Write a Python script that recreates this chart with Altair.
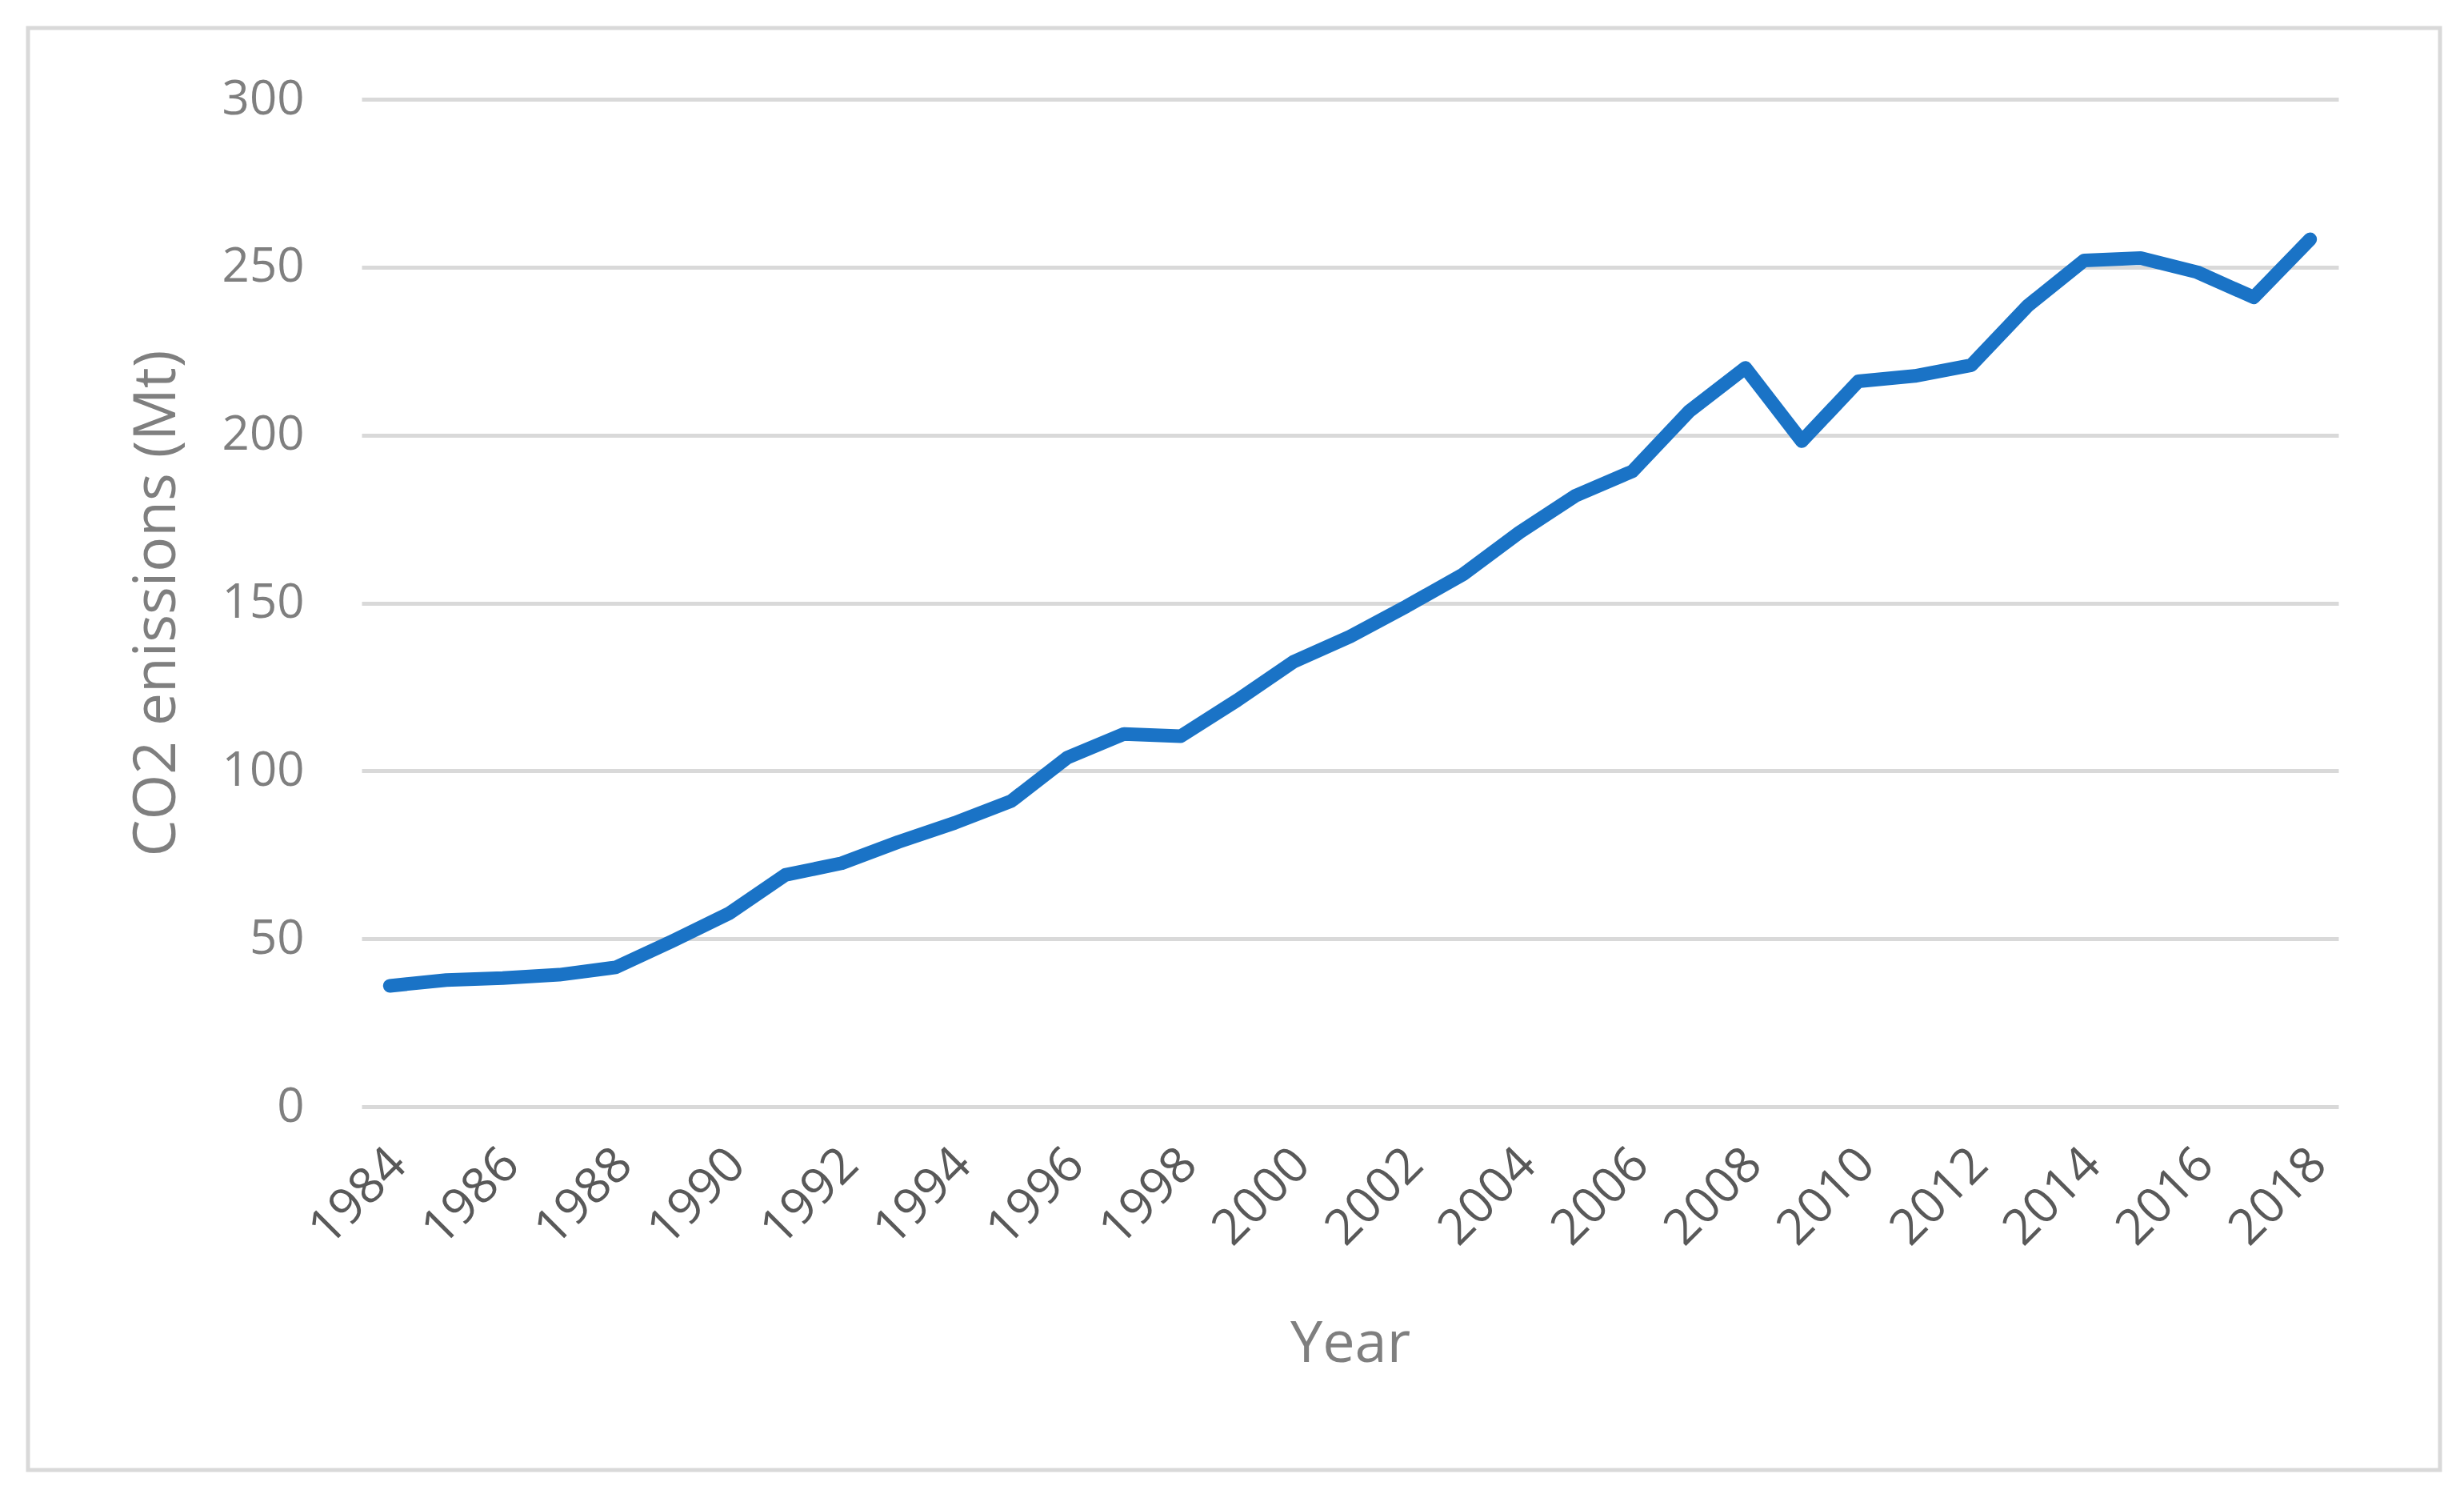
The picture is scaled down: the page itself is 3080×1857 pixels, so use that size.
import altair as alt
import pandas as pd

years = list(range(1984, 2019))
emissions = [36.0, 37.7, 38.3, 39.3, 41.5, 49.3, 57.5, 69.0, 72.5, 78.8,
             84.5, 91.0, 104.0, 111.0, 110.3, 121.0, 132.5, 140.0, 149.0, 158.5,
             171.0, 182.0, 189.2, 207.0, 220.0, 198.2, 216.0, 217.6, 220.8, 238.5,
             252.0, 252.7, 248.5, 241.0, 258.3]
x_ticks = list(range(1984, 2019, 2))
y_ticks = [0, 50, 100, 150, 200, 250, 300]

df = pd.DataFrame({"Year": years, "CO2": emissions})

W, H = 2471, 1259
FONT = "Open Sans"

line = alt.Chart(df).mark_line(
    color="#1a73c6", strokeWidth=17, strokeCap="round", strokeJoin="round"
).encode(
    x=alt.X("Year:Q",
            scale=alt.Scale(domain=[1983.5, 2018.5], nice=False, zero=False),
            axis=alt.Axis(values=x_ticks, format="d", title="Year",
                          grid=False, domain=False, ticks=False,
                          labelAngle=-45, labelAlign="right", labelBaseline="middle",
                          labelPadding=62, labelOffset=10, labelOverlap=False,
                          labelFont=FONT, labelFontSize=62, labelColor="#595959",
                          titleFont=FONT, titleFontSize=72, titleColor="#7f7f7f",
                          titleFontWeight="normal",
                          titleX=W / 2, titleY=296, titleBaseline="middle",
                          titleAlign="center")),
    y=alt.Y("CO2:Q",
            scale=alt.Scale(domain=[0, 300], nice=False),
            axis=alt.Axis(values=y_ticks, title="CO2 enissions (Mt)",
                          grid=True, gridColor="#d9d9d9", gridWidth=5,
                          domain=False, ticks=False, labelPadding=72,
                          labelOverlap=False,
                          labelFont=FONT, labelFontSize=60, labelColor="#7f7f7f",
                          titleFont=FONT, titleFontSize=73, titleColor="#7f7f7f",
                          titleFontWeight="normal", titleAngle=-90,
                          titleX=-256, titleY=H / 2, titleBaseline="middle",
                          titleAlign="center")),
)

frame = alt.Chart(pd.DataFrame({"a": [0]})).mark_rect(
    fill=None, stroke="#d9d9d9", strokeWidth=5
).encode(
    x=alt.value(-417), x2=alt.value(2598), y=alt.value(-89), y2=alt.value(1713)
)

chart = alt.layer(frame, line).properties(
    width=W, height=H,
    autosize=alt.AutoSizeParams(type="none"),
    padding={"left": 444, "top": 116, "right": 137, "bottom": 457},
    background="white",
).configure_view(stroke=None)

chart.save("out.html", embed_options={"renderer": "svg", "actions": False})
